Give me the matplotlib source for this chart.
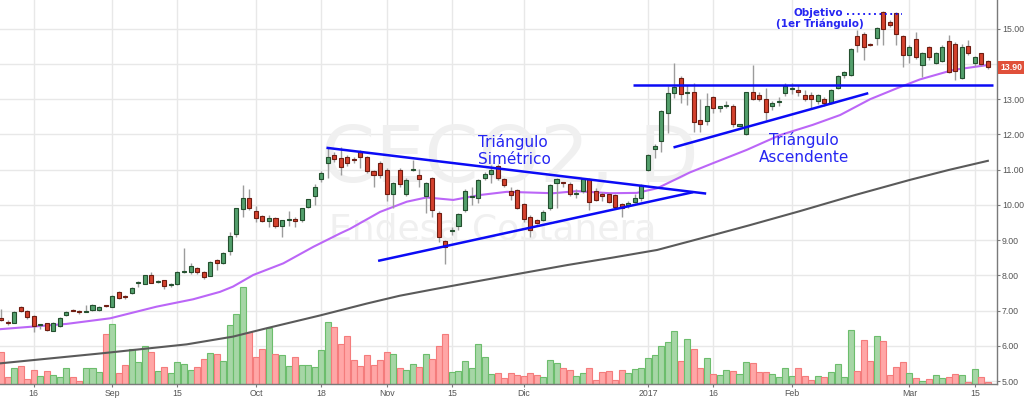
import matplotlib
matplotlib.use("Agg")
import matplotlib.pyplot as plt
from matplotlib.transforms import blended_transform_factory

# --- velas diarias (indice de sesion 0..151, 16-ago-2016 a mar-2017) ---
apertura = [6.78, 6.68, 6.66, 7.10, 7.00, 6.84, 6.58, 6.64, 6.43, 6.56,
            6.86, 7.01, 6.98, 6.96, 7.02, 7.01, 7.14, 7.11, 7.53, 7.42,
            7.50, 7.78, 7.75, 8.00, 7.80, 7.86, 7.73, 7.75, 8.08, 8.09,
            8.22, 8.10, 7.99, 8.43, 8.34, 8.70, 9.16, 9.89, 10.20, 9.82,
            9.68, 9.55, 9.63, 9.40, 9.56, 9.60, 9.57, 9.95, 10.25, 10.74,
            11.20, 11.41, 11.34, 11.37, 11.29, 11.50, 11.35, 10.96, 11.20, 11.00,
            10.31, 11.00, 10.31, 10.98, 10.85, 10.25, 10.75, 9.78, 8.98, 9.25,
            9.40, 9.86, 10.22, 10.19, 10.75, 10.89, 11.10, 10.72, 10.40, 10.42,
            10.02, 9.66, 9.57, 9.57, 9.90, 10.61, 10.64, 10.59, 10.30, 10.40,
            10.72, 10.40, 10.30, 10.31, 10.28, 10.02, 10.00, 10.09, 10.19, 11.00,
            11.58, 11.80, 12.60, 13.18, 13.59, 13.17, 13.19, 12.41, 12.39, 13.05,
            12.74, 12.82, 12.80, 12.24, 12.00, 13.19, 13.12, 13.00, 12.80, 12.92,
            13.18, 13.28, 13.26, 13.12, 13.12, 12.95, 13.00, 12.90, 13.31, 13.69,
            13.69, 14.79, 14.85, 14.57, 14.75, 15.48, 15.20, 15.45, 14.79, 14.25,
            14.70, 13.97, 14.49, 14.04, 14.09, 14.66, 14.58, 13.60, 14.51, 14.02,
            14.30, 14.09]
maximo = [7.05, 6.72, 6.98, 7.14, 7.02, 6.86, 6.62, 6.66, 6.67, 6.82,
          6.98, 7.03, 7.02, 7.17, 7.18, 7.14, 7.17, 7.43, 7.55, 7.43,
          7.68, 7.84, 8.02, 8.08, 7.86, 7.88, 7.79, 8.12, 8.77, 8.35,
          8.25, 8.12, 8.40, 8.45, 8.67, 9.24, 9.92, 10.56, 10.46, 9.98,
          9.70, 9.72, 9.65, 9.58, 9.83, 9.65, 9.92, 10.18, 10.60, 10.95,
          11.63, 11.50, 11.64, 11.42, 11.35, 11.55, 11.40, 11.00, 11.25, 11.05,
          10.65, 11.05, 10.75, 11.27, 11.02, 10.65, 10.80, 9.82, 9.00, 9.36,
          9.76, 10.45, 10.52, 10.72, 10.92, 11.13, 11.15, 10.75, 10.50, 10.46,
          10.05, 9.70, 9.60, 9.85, 10.58, 10.75, 10.66, 10.65, 10.45, 10.72,
          10.75, 10.48, 10.36, 10.35, 10.32, 10.05, 10.12, 10.30, 10.60, 11.45,
          11.72, 12.69, 13.37, 14.02, 13.65, 13.40, 13.45, 13.00, 13.17, 13.10,
          12.80, 12.95, 12.85, 12.30, 13.20, 13.98, 13.20, 13.31, 12.95, 13.05,
          13.45, 13.45, 13.40, 13.25, 13.20, 13.15, 13.05, 13.28, 13.68, 13.80,
          14.45, 14.96, 14.90, 14.60, 15.05, 15.50, 15.25, 15.47, 14.82, 14.55,
          14.92, 14.35, 14.52, 14.35, 14.55, 14.82, 14.62, 14.58, 14.68, 14.22,
          14.32, 14.12]
minimo = [6.70, 6.60, 6.64, 6.97, 6.75, 6.38, 6.47, 6.42, 6.42, 6.54,
          6.84, 6.98, 6.90, 6.95, 7.00, 6.99, 7.10, 7.09, 7.33, 7.34,
          7.48, 7.66, 7.74, 7.77, 7.78, 7.60, 7.66, 7.73, 8.06, 8.05,
          8.05, 7.90, 7.97, 8.15, 8.32, 8.58, 9.10, 9.65, 9.85, 9.50,
          9.50, 9.38, 9.33, 9.08, 9.40, 9.38, 9.50, 9.90, 10.00, 10.66,
          10.75, 11.22, 10.85, 11.10, 11.20, 11.04, 10.90, 10.52, 10.75, 10.10,
          9.90, 10.50, 10.25, 10.96, 10.52, 9.76, 9.66, 8.95, 8.32, 9.14,
          9.30, 9.80, 10.00, 10.05, 10.70, 10.61, 10.70, 10.50, 10.14, 9.88,
          9.50, 9.10, 9.45, 9.55, 9.85, 9.90, 10.50, 10.25, 10.20, 10.35,
          9.85, 10.10, 10.10, 10.05, 9.90, 9.66, 9.90, 10.05, 10.10, 10.95,
          11.32, 11.51, 12.03, 13.02, 12.90, 12.83, 12.08, 12.08, 12.27, 12.60,
          12.64, 12.75, 12.22, 12.20, 11.98, 12.98, 12.95, 12.41, 12.70, 12.80,
          13.10, 13.15, 13.10, 12.95, 12.74, 12.85, 12.82, 12.85, 13.28, 13.60,
          13.65, 14.35, 14.11, 14.50, 14.54, 14.54, 15.05, 14.54, 13.92, 14.02,
          14.15, 13.64, 14.10, 14.00, 14.05, 13.75, 13.54, 13.58, 14.25, 13.95,
          13.95, 13.85]
cierre = [6.72, 6.64, 6.96, 6.99, 6.82, 6.56, 6.60, 6.45, 6.65, 6.80,
          6.96, 6.99, 6.96, 6.99, 7.15, 7.10, 7.12, 7.41, 7.36, 7.39,
          7.65, 7.80, 8.00, 7.79, 7.85, 7.71, 7.76, 8.10, 8.12, 8.26,
          8.09, 7.94, 8.39, 8.34, 8.62, 9.12, 9.90, 10.19, 9.92, 9.64,
          9.55, 9.63, 9.40, 9.56, 9.58, 9.55, 9.90, 10.16, 10.52, 10.91,
          11.37, 11.29, 11.08, 11.20, 11.27, 11.35, 10.96, 10.85, 10.85, 10.31,
          10.61, 10.59, 10.70, 11.00, 10.73, 10.61, 9.86, 9.10, 8.79, 9.27,
          9.74, 10.40, 10.24, 10.70, 10.89, 11.00, 10.75, 10.56, 10.28, 9.90,
          9.59, 9.30, 9.49, 9.81, 10.56, 10.72, 10.62, 10.31, 10.32, 10.72,
          10.09, 10.14, 10.25, 10.09, 9.95, 9.90, 10.05, 10.20, 10.56, 11.41,
          11.67, 12.67, 13.17, 13.35, 13.15, 13.18, 12.36, 12.30, 12.80, 12.74,
          12.80, 12.83, 12.30, 12.30, 13.19, 13.00, 13.00, 12.64, 12.90, 12.93,
          13.37, 13.30, 13.19, 13.00, 13.00, 13.12, 12.90, 13.26, 13.66, 13.76,
          14.42, 14.54, 14.49, 14.55, 15.01, 14.98, 15.10, 14.85, 14.25, 14.47,
          14.20, 14.30, 14.20, 14.30, 14.49, 13.78, 13.81, 14.49, 14.30, 14.20,
          14.00, 13.90]
volumen = [317, 73, 157, 180, 53, 143, 80, 133, 93, 67,
           160, 67, 33, 160, 160, 123, 497, 603, 110, 193,
           347, 220, 383, 323, 133, 173, 107, 223, 200, 143,
           173, 253, 313, 303, 227, 593, 703, 973, 523, 267,
           350, 557, 300, 290, 183, 267, 190, 193, 173, 340,
           617, 570, 400, 477, 243, 183, 290, 193, 243, 323,
           297, 160, 143, 200, 170, 303, 250, 377, 503, 123,
           133, 230, 160, 400, 267, 100, 110, 63, 110, 90,
           83, 113, 93, 73, 243, 213, 163, 143, 83, 113,
           163, 37, 123, 133, 37, 143, 113, 147, 163, 260,
           293, 383, 417, 533, 227, 450, 353, 163, 257, 100,
           93, 143, 133, 103, 220, 210, 123, 123, 100, 67,
           160, 83, 160, 83, 43, 83, 73, 123, 200, 73,
           540, 130, 437, 230, 483, 427, 93, 167, 220, 115,
           65, 30, 55, 88, 63, 70, 105, 95, 25, 152,
           72, 18]

# eje x: posiciones de las etiquetas de fecha
tick_idx = [5, 17, 27, 39, 49, 59, 69, 80, 99, 109, 121, 139, 149]
tick_lbl = ["16", "Sep", "15", "Oct", "18", "Nov", "15", "Dic", "2017", "16", "Feb", "Mar", "15"]

# medias moviles
mm_corta_idx = [-0.2, 10.0, 16.7, 23.8, 29.4, 33.5, 35.5, 38.6, 43.2, 47.8, 51.9, 53.4, 58.0,
                62.1, 65.1, 69.2, 73.3, 77.4, 84.5, 88.1, 93.2, 97.3, 100.4, 105.4,
                108.9, 114.1, 119.2, 124.2, 128.4, 133.0, 137.1, 140.6, 145.7, 151.0]
mm_corta = [6.47, 6.62, 6.78, 7.11, 7.32, 7.53, 7.68, 8.01, 8.34, 8.81, 9.19, 9.32, 9.80,
            10.09, 10.21, 10.14, 10.28, 10.37, 10.33, 10.39, 10.33, 10.34, 10.47, 10.92,
            11.18, 11.56, 11.98, 12.27, 12.55, 13.00, 13.31, 13.56, 13.83, 13.97]
mm_larga_idx = [-0.2, 15.1, 28.4, 35.5, 40.7, 48.8, 56.0, 61.0, 66.1, 73.7, 79.4, 86.6,
                93.5, 100.4, 106.9, 114.5, 122.2, 130.5, 139.1, 145.0, 151.0]
mm_larga = [5.50, 5.78, 6.04, 6.26, 6.50, 6.86, 7.20, 7.42, 7.60, 7.86, 8.05, 8.29,
            8.50, 8.72, 9.04, 9.42, 9.82, 10.27, 10.71, 10.99, 11.25]

# lineas de tendencia dibujadas (indice, precio)
sim_sup_x, sim_sup_y = [49.8, 107.9], [11.62, 10.32]
sim_inf_x, sim_inf_y = [57.7, 105.9], [8.41, 10.36]
resist_x, resist_y = [96.7, 151.8], [13.41, 13.41]
asc_inf_x, asc_inf_y = [102.9, 132.7], [11.63, 13.17]
objetivo_x, objetivo_y = [129.4, 137.8], [15.42, 15.42]

ultimo = cierre[-1]

AZUL = "#0b0bf5"
AZUL_TXT = "#2626f2"

idx = list(range(len(cierre)))
sube = [c >= o for o, c in zip(apertura, cierre)]

fig = plt.figure(figsize=(10.24, 3.98), dpi=100)
rect = [0, 14 / 398, 997 / 1024, 384 / 398]
xlim = (-0.153, 152.4)
ylim = (4.915, 15.815)

# fondo: cuadricula y marca de agua
base = fig.add_axes(rect, zorder=0)
base.set_xlim(*xlim)
base.set_ylim(*ylim)
base.set_xticks(tick_idx)
base.set_yticks(range(5, 16))
base.grid(True, color="#e8e8e8", lw=1)
base.tick_params(length=0, labelbottom=False, labelleft=False)
for s in base.spines.values():
    s.set_visible(False)
base.text(77.9, 11.27, "CECO2, D", fontsize=56, color="#f0f0f0", ha="center", va="center")
base.text(75.3, 9.29, "Endesa Costanera", fontsize=26, color="#f0f0f0", ha="center", va="center")

# volumen
axv = fig.add_axes(rect, zorder=1)
axv.patch.set_visible(False)
axv.set_xlim(*xlim)
axv.set_ylim(0, 3840)
axv.axis("off")
axv.bar(idx, volumen, width=0.92,
        color=["#a6d6a6" if s else "#ffa6a6" for s in sube],
        edgecolor=["#6cbd6c" if s else "#f47c7c" for s in sube], lw=0.8)

# precio
ax = fig.add_axes(rect, zorder=2)
ax.patch.set_visible(False)
ax.set_xlim(*xlim)
ax.set_ylim(*ylim)

ax.plot(mm_larga_idx, mm_larga, color="#5a5a5a", lw=1.5, zorder=2)
ax.plot(mm_corta_idx, mm_corta, color="#bb66f7", lw=1.5, zorder=2)

ax.vlines(idx, minimo, maximo, color="#9c9c9c", lw=1, zorder=3)
cuerpo = [max(abs(c - o), 0.025) for o, c in zip(apertura, cierre)]
ax.bar(idx, cuerpo, bottom=[min(o, c) for o, c in zip(apertura, cierre)], width=0.62,
       color=["#539f6c" if s else "#d4412d" for s in sube],
       edgecolor=["#24502f" if s else "#6e1d12" for s in sube], lw=0.8, zorder=4)

for lx, ly in [(sim_sup_x, sim_sup_y), (sim_inf_x, sim_inf_y), (resist_x, resist_y), (asc_inf_x, asc_inf_y)]:
    ax.plot(lx, ly, color=AZUL, lw=1.8, zorder=5, solid_capstyle="butt")
ax.plot(objetivo_x, objetivo_y, color=AZUL, lw=1.3, ls=(0, (1, 2)), zorder=5)

ax.text(73.0, 11.55, "Triángulo\nSimétrico", color=AZUL_TXT, fontsize=11,
        ha="left", va="center", linespacing=1.2, zorder=6)
ax.text(122.9, 11.6, "Triángulo\nAscendente", color=AZUL_TXT, fontsize=11,
        ha="center", va="center", linespacing=1.2, zorder=6)
ax.text(125.0, 15.45, "Objetivo", color=AZUL_TXT, fontsize=7.5, fontweight="bold",
        ha="center", va="center", zorder=6)
ax.text(125.3, 15.13, "(1er Triángulo)", color=AZUL_TXT, fontsize=7.5, fontweight="bold",
        ha="center", va="center", zorder=6)

# ejes
for k in ["left", "top"]:
    ax.spines[k].set_visible(False)
for k in ["right", "bottom"]:
    ax.spines[k].set_color("#7a7a7a")
    ax.spines[k].set_linewidth(1)
ax.yaxis.tick_right()
ax.set_yticks(range(5, 16))
ax.set_yticklabels(["%.2f" % v for v in range(5, 16)], family="Liberation Sans")
ax.set_xticks(tick_idx)
ax.set_xticklabels(tick_lbl, family="Liberation Sans")
ax.tick_params(axis="both", length=2.5, width=0.8, color="#7a7a7a", labelcolor="#555555",
               labelsize=6.3, pad=1.0)

trans = blended_transform_factory(ax.transAxes, ax.transData)
ax.text(1.003, ultimo, "%.2f" % ultimo, transform=trans, ha="left", va="center",
        color="white", fontsize=6.3, fontweight="bold", family="Liberation Sans",
        clip_on=False, zorder=7,
        bbox=dict(boxstyle="square,pad=0.25", fc="#e0503a", ec="none"))

fig.savefig("out.png", dpi=100)
